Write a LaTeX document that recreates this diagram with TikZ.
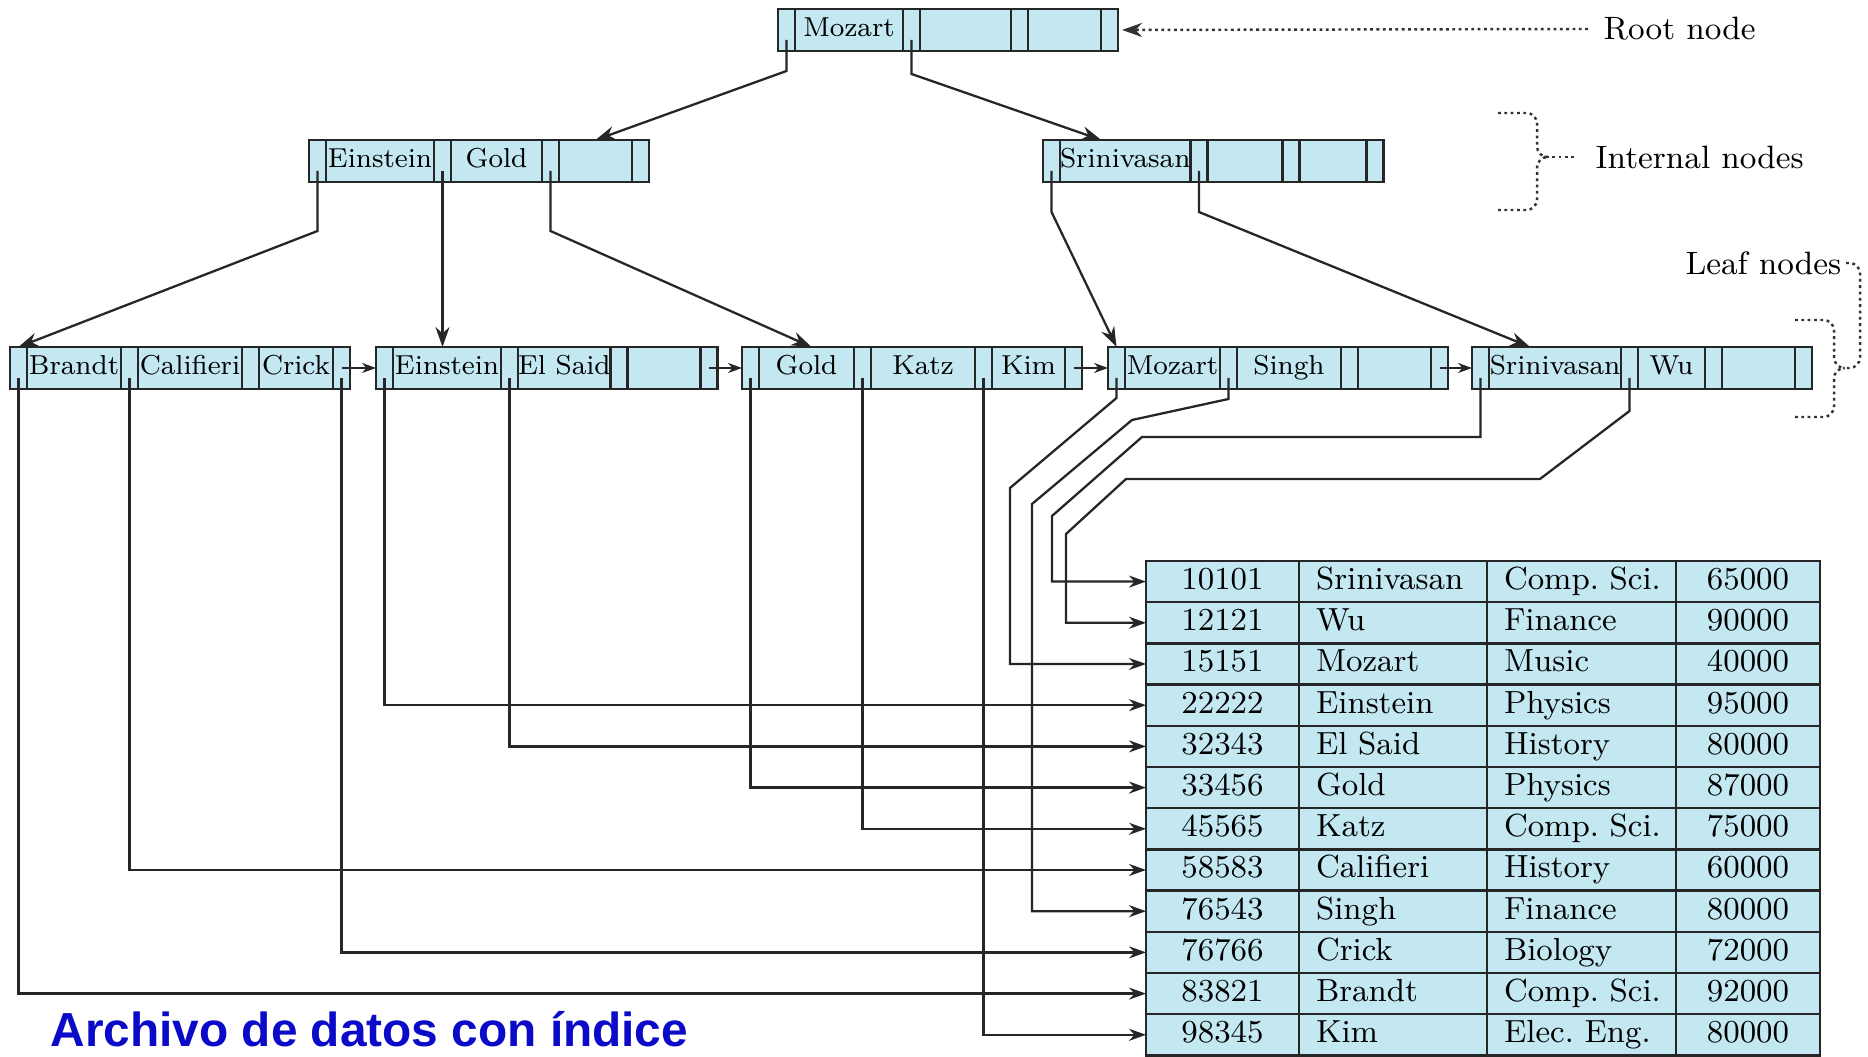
\documentclass[tikz,border=0pt]{standalone}
\usepackage{fontspec}
\newfontfamily\titlefont{Liberation Sans}
\usetikzlibrary{positioning,calc,arrows.meta}
\definecolor{cellblue}{RGB}{196,232,242}
\definecolor{titleblue}{RGB}{10,10,200}

\tikzset{
  cellbase/.style={draw=black!85, line width=0.7pt, fill=cellblue, inner sep=0pt, outer sep=0pt},
  ptrcell/.style={cellbase, minimum width=0.17cm, minimum height=0.42cm},
  keycell/.style={cellbase, minimum height=0.42cm, font=\fontsize{7.8}{9}\selectfont, text height=0.2cm, text depth=0.06cm},
  reccell/.style={cellbase, minimum height=0.412cm, font=\fontsize{9.1}{11}\selectfont\frenchspacing, text height=0.23cm, text depth=0.07cm},
  recleft/.style={reccell, inner xsep=0.17cm, text width=#1, align=left},
  treelink/.style={line width=0.65pt, black!85, -{Stealth[length=0.2cm, width=0.14cm]}},
  reclink/.style={line width=0.65pt, black!85, -{Stealth[length=0.17cm, width=0.12cm]}},
  nextlink/.style={line width=0.6pt, black!85, -{Stealth[length=0.14cm, width=0.1cm]}},
  lbl/.style={inner sep=0pt, font=\fontsize{9.2}{11}\selectfont},
  lblline/.style={line width=0.7pt, black!80, dash pattern=on 0.8pt off 1pt},
}

\begin{document}
\begin{tikzpicture}
  \useasboundingbox (0,0) rectangle (18.68,10.57);

  % Tree nodes: P1 K1 P2 K2 P3 K3 P4
  \foreach \nm/\x/\y/\ka/\wa/\kb/\wb/\kc/\wc in {
      root/7.78/10.27/Mozart/1.08/{}/0.91/{}/0.73,
      intA/3.09/8.96/Einstein/1.08/Gold/0.91/{}/0.73,
      intB/10.43/8.96/Srinivasan/1.30/{}/0.75/{}/0.67,
      leafA/0.10/6.89/Brandt/0.94/Califieri/1.04/Crick/0.74,
      leafB/3.76/6.89/Einstein/1.08/El Said/0.91/{}/0.73,
      leafC/7.42/6.89/Gold/0.95/Katz/1.04/Kim/0.73,
      leafD/11.08/6.89/Mozart/0.95/Singh/1.04/{}/0.73,
      leafE/14.72/6.89/Srinivasan/1.32/Wu/0.67/{}/0.73} {
    \node[ptrcell, anchor=west] (\nm-p1) at (\x,\y) {};
    \node[keycell, minimum width=\wa cm, right=0pt of \nm-p1] (\nm-k1) {\ka};
    \node[ptrcell, right=0pt of \nm-k1] (\nm-p2) {};
    \node[keycell, minimum width=\wb cm, right=0pt of \nm-p2] (\nm-k2) {\kb};
    \node[ptrcell, right=0pt of \nm-k2] (\nm-p3) {};
    \node[keycell, minimum width=\wc cm, right=0pt of \nm-p3] (\nm-k3) {\kc};
    \node[ptrcell, right=0pt of \nm-k3] (\nm-p4) {};
  }

  % Data file
  \foreach \i/\id/\nm/\dept/\sal in {1/10101/Srinivasan/Comp. Sci./65000,
      2/12121/Wu/Finance/90000, 3/15151/Mozart/Music/40000,
      4/22222/Einstein/Physics/95000, 5/32343/El Said/History/80000,
      6/33456/Gold/Physics/87000, 7/45565/Katz/Comp. Sci./75000,
      8/58583/Califieri/History/60000, 9/76543/Singh/Finance/80000,
      10/76766/Crick/Biology/72000, 11/83821/Brandt/Comp. Sci./92000,
      12/98345/Kim/Elec. Eng./80000} {
    \node[reccell, minimum width=1.53cm] (rec\i) at (12.225,{5.166-0.412*\i}) {\id};
    \node[recleft=1.54cm, right=0pt of rec\i] (name\i) {\mbox{\nm}};
    \node[recleft=1.55cm, right=0pt of name\i] (dept\i) {\mbox{\dept}};
    \node[reccell, minimum width=1.44cm, right=0pt of dept\i] (sal\i) {\sal};
  }

  % Root and internal pointers
  \draw[treelink] ($(root-p1.south)+(0,0.11)$) -- ++(0,-0.31) -- (intA-k3.north);
  \draw[treelink] ($(root-p2.south)+(0,0.11)$) -- ++(0,-0.34) -- ($(intB-k1.north)+(-0.24,0)$);
  \draw[treelink] ($(intA-p1.south)+(0,0.11)$) -- ++(0,-0.6) -- (leafA-p1.north);
  \draw[treelink] ($(intA-p2.south)+(0,0.11)$) -- (intA-p2 |- leafB-k1.north);
  \draw[treelink] ($(intA-p3.south)+(0,0.11)$) -- ++(0,-0.6) -- ($(leafC-k1.north)+(0.05,0)$);
  \draw[treelink] ($(intB-p1.south)+(0,0.11)$) -- ++(0,-0.41) -- (leafD-p1.north);
  \draw[treelink] ($(intB-p2.south)+(0,0.11)$) -- ++(0,-0.41) -- ($(leafE-k1.north)+(-0.25,0)$);

  % Leaf chain
  \foreach \a/\b in {leafA/leafB, leafB/leafC, leafC/leafD, leafD/leafE}
    \draw[nextlink] (\a-p4.center) -- (\b-p1.west);

  % Leaf pointers to records
  \foreach \src/\row in {leafA-p1/11, leafA-p2/8, leafA-p4/10, leafB-p1/4,
      leafB-p2/5, leafC-p1/6, leafC-p2/7, leafC-p3/12}
    \draw[reclink] ($(\src.south)+(0,0.11)$) |- (rec\row.west);
  \draw[reclink] ($(leafD-p1.south)+(0,0.11)$) -- ++(0,-0.20) -- (10.10,5.69) |- (rec3.west);
  \draw[reclink] ($(leafD-p2.south)+(0,0.11)$) -- ++(0,-0.21) -- (11.32,6.37) -- (10.32,5.53) |- (rec9.west);
  \draw[reclink] ($(leafE-p1.south)+(0,0.11)$) |- (11.42,6.20) -- (10.52,5.41) |- (rec1.west);
  \draw[reclink] ($(leafE-p2.south)+(0,0.11)$) -- ++(0,-0.33) -- (15.40,5.78) -- (11.26,5.78) -- (10.66,5.23) |- (rec2.west);

  % Labels
  \node[lbl, anchor=west] (rootlbl) at (16.03,10.28) {Root node};
  \draw[lblline, -{Stealth[length=0.2cm, width=0.14cm]}] ([xshift=-0.15cm]rootlbl.west) -- ([xshift=0.04cm]root-p4.east);

  \draw[lblline, rounded corners=3pt] (14.98,9.44) -- (15.37,9.44) -- (15.37,9.00) -- (15.44,9.00);
  \draw[lblline, rounded corners=3pt] (14.98,8.47) -- (15.37,8.47) -- (15.37,9.00) -- (15.44,9.00);
  \coordinate (ibrace) at (15.46,9.00);
  \node[lbl, anchor=west] (intlbl) at (15.95,9.00) {Internal nodes};
  \draw[lblline] (ibrace) -- ([xshift=-0.18cm]intlbl.west);

  \draw[lblline, rounded corners=3pt] (17.95,7.37) -- (18.34,7.37) -- (18.34,6.89) -- (18.43,6.89);
  \draw[lblline, rounded corners=3pt] (17.95,6.40) -- (18.34,6.40) -- (18.34,6.89) -- (18.43,6.89);
  \coordinate (lbrace) at (18.43,6.89);
  \node[lbl, anchor=east] (leaflbl) at (18.42,7.94) {Leaf nodes};
  \draw[lblline, rounded corners=3pt] ([xshift=0.04cm]leaflbl.east) -| (18.60,6.89) -- (lbrace);

  % Title
  \node[anchor=base west, inner sep=0pt, text=titleblue,
        font=\titlefont\bfseries\fontsize{13.6}{16}\selectfont] (title) at (0.50,0.10) {Archivo de datos con índice};
\end{tikzpicture}
\end{document}
